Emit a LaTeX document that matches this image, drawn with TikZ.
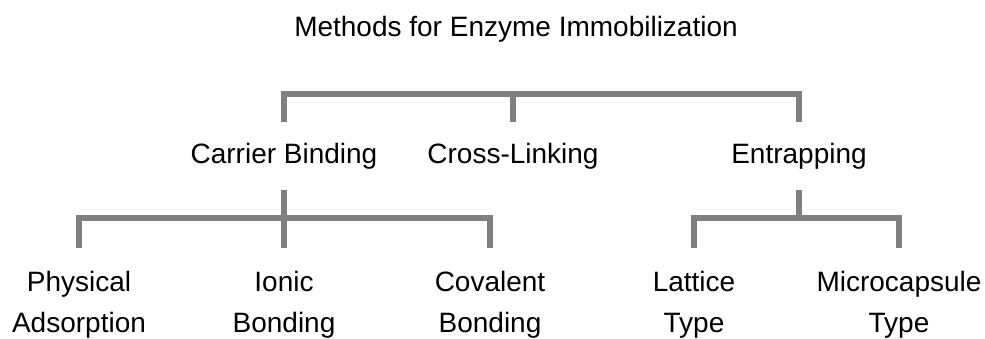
\documentclass[tikz,border=0pt]{standalone}
\usepackage{fontspec}
\setmainfont{Liberation Sans}
\usetikzlibrary{positioning,calc}
\definecolor{bargray}{HTML}{808080}

\begin{document}
\begin{tikzpicture}[
  x=1pt, y=-1pt,
  head/.style={font=\fontsize{28}{34}\selectfont, inner sep=0pt, anchor=base},
  cat/.style={font=\fontsize{28}{34}\selectfont, text height=21pt,
              text depth=7pt, inner xsep=2pt, inner ysep=20pt},
  leaf/.style={font=\fontsize{28}{41}\selectfont, align=center,
               anchor=north, inner xsep=2pt, inner ysep=23pt},
  bar/.style={draw=bargray, line width=6pt}
]
\useasboundingbox (0,0) rectangle (985,338);

\node[head] (title) at (516,36) {Methods for Enzyme Immobilization};

\node[cat] (carrier) at (284,156) {Carrier Binding};
\node[cat] (cross) at (513,156) {Cross-Linking};
\node[cat] (entrap) at (799,156) {Entrapping};

\node[leaf] (phys) at (79,248) {Physical\\Adsorption};
\node[leaf] (ionic) at (284,248) {Ionic\\Bonding};
\node[leaf] (coval) at (490,248) {Covalent\\Bonding};
\node[leaf] (lattice) at (694,248) {Lattice\\Type};
\node[leaf] (micro) at (899,248) {Microcapsule\\Type};

\coordinate (top) at (513,94);
\coordinate (cbar) at (284,218);
\coordinate (ebar) at (799,218);

\draw[bar] (carrier.north) |- (top) -| (entrap.north);
\draw[bar] (cross.north) -- (top);
\draw[bar] (phys.north) |- (cbar) -| (coval.north);
\draw[bar] (carrier.south) -- (ionic.north);
\draw[bar] (entrap.south) -- (ebar);
\draw[bar] (lattice.north) |- (ebar) -| (micro.north);
\end{tikzpicture}
\end{document}
